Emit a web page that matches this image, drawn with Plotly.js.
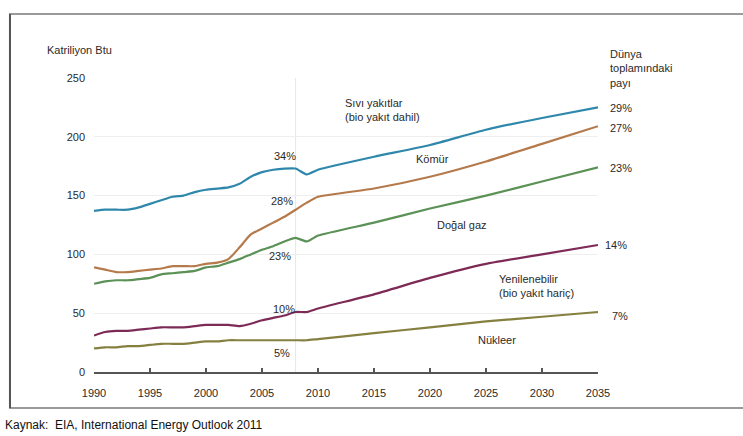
<!DOCTYPE html>
<html>
<head>
<meta charset="utf-8">
<script src="https://cdn.plot.ly/plotly-3.0.1.min.js"></script>
<style>html,body{margin:0;padding:0;background:#fff;}#chart{width:743px;height:436px;}</style>
</head>
<body>
<div id="chart"></div>
<script>
const years = [1990,1991,1992,1993,1994,1995,1996,1997,1998,1999,2000,2001,2002,2003,2004,2005,2006,2007,2008,2009,2010,2015,2020,2025,2030,2035];
const liquids    = [137,138,138,138,140,143,146,149,150,153,155,156,157,160,166,170,172,173,173,168,172,183,193,206,216,225];
const coal       = [89,87,85,85,86,87,88,90,90,90,92,93,96,106,117,122,127,132,138,144,149,156,166,179,194,209];
const gas        = [75,77,78,78,79,80,83,84,85,86,89,90,93,96,100,104,107,111,114,111,116,127,139,150,162,174];
const renewables = [31,34,35,35,36,37,38,38,38,39,40,40,40,39,41,44,46,48,51,51,54,66,80,92,100,108];
const nuclear    = [20,21,21,22,22,23,24,24,24,25,26,26,27,27,27,27,27,27,27,27,28,33,38,43,47,51];
const tickYears = [1990,1995,2000,2005,2010,2015,2020,2025,2030,2035];
const yTicks = [0,50,100,150,200,250];

const shares2008 = ['34%','28%','23%','10%','5%'];
const shares2035 = ['29%','27%','23%','14%','7%'];

function tr(y, color) {
  return {x: years, y: y, type: 'scatter', mode: 'lines',
    line: {color: color, width: 2.2, shape: 'spline', smoothing: 0.5},
    hoverinfo: 'skip', showlegend: false};
}
const data = [
  tr(nuclear, '#85803f'),
  tr(renewables, '#7d2a57'),
  tr(gas, '#5b9156'),
  tr(coal, '#b57a4c'),
  tr(liquids, '#2f88ab')
];

const F = {family: 'Liberation Sans, Arial, sans-serif', size: 11, color: '#2a2a2a'};
function ann(text, x, y, xanchor, extra) {
  return Object.assign({text: text, x: x, y: y, xref: 'x', yref: 'y', xanchor: xanchor || 'center', yanchor: 'middle', showarrow: false, font: F, align: 'left'}, extra || {});
}
function pann(text, x, y, xanchor) {
  return {text: text, x: x, y: y, xref: 'paper', yref: 'y', xanchor: xanchor || 'left', yanchor: 'middle', showarrow: false, font: F};
}
const annotations = [
  ann('Sıvı yakıtlar<br>(bio yakıt dahil)', 2012.2, 223, 'left'),
  ann(shares2008[0], 2007.05, 184),
  ann('Kömür', 2020.2, 181),
  ann(shares2008[1], 2006.8, 145),
  ann('Doğal gaz', 2022.9, 125),
  ann(shares2008[2], 2006.6, 98.6),
  ann(shares2008[3], 2007, 54),
  ann('Yenilenebilir<br>(bio yakıt hariç)', 2026, 73, 'left'),
  ann('Nükleer', 2026, 27),
  ann(shares2008[4], 2006.8, 16),
  pann(shares2035[0], 1.0198, 224.5),
  pann(shares2035[1], 1.0198, 207.5),
  pann(shares2035[2], 1.0198, 173.5),
  pann(shares2035[3], 1.0099, 108),
  pann(shares2035[4], 1.0238, 47.6),
  ann('Geçmiş', 1998.3, 259),
  ann('2008', 2008.2, 257.6),
  ann('Öngörü', 2021.9, 257.6),
  {text: 'Katriliyon Btu', x: -0.097, y: 1.095, xref: 'paper', yref: 'paper', xanchor: 'left', yanchor: 'middle', showarrow: false, font: F},
  {text: 'Dünya<br>toplamındaki<br>payı', x: 1.02, y: 1.11, xref: 'paper', yref: 'paper', xanchor: 'left', yanchor: 'top', showarrow: false, font: F, align: 'left'},
  {text: 'Kaynak:  EIA, International Energy Outlook 2011', x: -0.1806, y: -0.180, xref: 'paper', yref: 'paper', xanchor: 'left', yanchor: 'middle', showarrow: false, font: {family: 'Liberation Sans, Arial, sans-serif', size: 12, color: '#111'}}
];

const layout = {
  width: 743, height: 436,
  margin: {l: 94, r: 145, t: 78, b: 64},
  paper_bgcolor: '#ffffff', plot_bgcolor: '#ffffff',
  showlegend: false,
  xaxis: {range: [1990, 2035], tickvals: tickYears, ticktext: tickYears.map(String),
    showgrid: false, zeroline: false, showline: true, linecolor: '#555', linewidth: 1.5,
    ticks: 'inside', ticklen: 4, tickcolor: '#555', tickwidth: 1.5,
    ticklabelstandoff: 10, tickfont: F},
  yaxis: {range: [0, 250], tickvals: yTicks, ticktext: yTicks.map(String),
    showgrid: true, gridcolor: '#eeeeee', zeroline: false, showline: false, ticks: '',
    ticklabelstandoff: 8, tickfont: F},
  shapes: [
    {type: 'line', xref: 'x', yref: 'paper', x0: 2008, x1: 2008, y0: 0, y1: 1, line: {color: '#e6e6e6', width: 1}, layer: 'below'},
    {type: 'rect', xref: 'paper', yref: 'paper', x0: -0.1667, x1: 1.4, y0: -0.1224, y1: 1.2177, line: {color: '#9a9a9a', width: 2}},
    {type: 'line', xref: 'paper', yref: 'paper', x0: -0.1667, x1: -0.1667, y0: -0.1224, y1: 1.2177, line: {color: '#555', width: 2}}
  ],
  annotations: annotations
};
Plotly.newPlot('chart', data, layout, {displayModeBar: false, staticPlot: true});
</script>
</body>
</html>
